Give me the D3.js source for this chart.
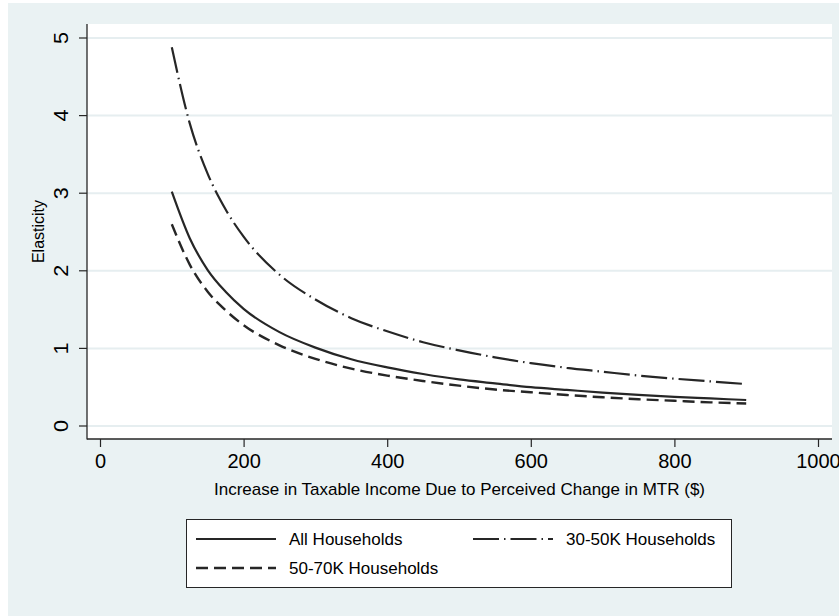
<!DOCTYPE html>
<html>
<head>
<meta charset="utf-8">
<script src="https://cdn.jsdelivr.net/npm/d3@7"></script>
<style>
  body { margin: 0; background: #fff; }
  svg { display: block; font-family: "Liberation Sans", Arial, sans-serif; }
</style>
</head>
<body>
<svg id="chart" width="839" height="616"></svg>
<script>
'use strict';

// income increase ($) at which the curves were read
const income = [100, 125, 150, 175, 200, 250, 300, 350, 400, 450, 500, 550, 600, 650, 700, 750, 800, 850, 900];

// elasticity
const allHouseholds = [3.02, 2.42, 2.01, 1.73, 1.51, 1.21, 1.01, 0.86, 0.755, 0.67, 0.60, 0.55, 0.50, 0.465, 0.43, 0.40, 0.375, 0.355, 0.335];
const hh30to50 = [4.88, 3.9, 3.25, 2.79, 2.44, 1.95, 1.63, 1.39, 1.22, 1.08, 0.975, 0.885, 0.81, 0.75, 0.70, 0.65, 0.61, 0.575, 0.54];
const hh50to70 = [2.60, 2.08, 1.73, 1.49, 1.30, 1.04, 0.865, 0.74, 0.65, 0.58, 0.52, 0.47, 0.435, 0.40, 0.37, 0.345, 0.325, 0.305, 0.29];

const xTicks = [0, 200, 400, 600, 800, 1000];
const yTicks = [0, 1, 2, 3, 4, 5];

const seriesNames = ['All Households', '30-50K Households', '50-70K Households'];

const bgColor = '#eaf2f3';
const inkColor = '#262626';

const plot = { left: 87, right: 832, top: 24, bottom: 439 };

const svg = d3.select('#chart');

// outer (graph region) background
svg.append('rect')
  .attr('x', 8).attr('y', 3)
  .attr('width', 831).attr('height', 613)
  .attr('fill', bgColor);

// plot region
svg.append('rect')
  .attr('x', plot.left).attr('y', plot.top)
  .attr('width', plot.right - plot.left)
  .attr('height', plot.bottom - plot.top)
  .attr('fill', '#fff');

const xScale = d3.scaleLinear().domain([0, 1000]).range([100, 818]);
const yScale = d3.scaleLinear().domain([0, 5]).range([426, 38]);

// gridlines
svg.append('g')
  .selectAll('line')
  .data(yTicks)
  .join('line')
  .attr('x1', plot.left).attr('x2', plot.right)
  .attr('y1', d => yScale(d)).attr('y2', d => yScale(d))
  .attr('stroke', '#e6eef0')
  .attr('stroke-width', 2);

// y axis
const yAxis = svg.append('g')
  .attr('transform', 'translate(' + plot.left + ',0)')
  .call(d3.axisLeft(yScale).tickValues(yTicks).tickSize(8).tickPadding(0).tickFormat(d3.format('d')));
yAxis.select('.domain').remove();
yAxis.selectAll('line').attr('stroke', inkColor).attr('stroke-width', 1.2);
yAxis.selectAll('text')
  .attr('fill', '#000')
  .attr('font-size', 20)
  .attr('text-anchor', 'middle')
  .attr('x', null).attr('dy', null)
  .attr('transform', d => 'translate(-19,' + yScale(d) + ') rotate(-90) scale(1.08,1)')
  .attr('y', 0);
yAxis.selectAll('.tick').attr('transform', null);
yAxis.selectAll('.tick line')
  .attr('y1', d => yScale(d)).attr('y2', d => yScale(d));

// x axis
const xAxis = svg.append('g')
  .attr('transform', 'translate(0,' + plot.bottom + ')')
  .call(d3.axisBottom(xScale).tickValues(xTicks).tickSize(8).tickPadding(6).tickFormat(d3.format('d')));
xAxis.select('.domain').remove();
xAxis.selectAll('line').attr('stroke', inkColor).attr('stroke-width', 1.2);
xAxis.selectAll('text')
  .attr('fill', '#000')
  .attr('font-size', 20)
  .attr('dy', null)
  .attr('y', 29);

// axis lines
svg.append('line')
  .attr('x1', plot.left).attr('x2', plot.left)
  .attr('y1', plot.top).attr('y2', plot.bottom + 0.5)
  .attr('stroke', inkColor).attr('stroke-width', 1.3);
svg.append('line')
  .attr('x1', plot.left).attr('x2', plot.right)
  .attr('y1', plot.bottom).attr('y2', plot.bottom)
  .attr('stroke', inkColor).attr('stroke-width', 1.3);

// axis titles
svg.append('text')
  .attr('transform', 'translate(44,' + (plot.top + plot.bottom) / 2 + ') rotate(-90)')
  .attr('text-anchor', 'middle')
  .attr('font-size', 16)
  .text('Elasticity');

svg.append('text')
  .attr('x', (plot.left + plot.right) / 2)
  .attr('y', 495)
  .attr('text-anchor', 'middle')
  .attr('font-size', 17)
  .text('Increase in Taxable Income Due to Perceived Change in MTR ($)');

// curves
const series = [
  { name: seriesNames[0], values: allHouseholds, dash: null, width: 2.2 },
  { name: seriesNames[1], values: hh30to50, dash: '26,5,1.5,5', width: 2.2 },
  { name: seriesNames[2], values: hh50to70, dash: '12,6', width: 2.4 },
];

const line = d3.line()
  .x((d, i) => xScale(income[i]))
  .y(d => yScale(d))
  .curve(d3.curveMonotoneX);

svg.append('g')
  .selectAll('path')
  .data(series)
  .join('path')
  .attr('d', d => line(d.values))
  .attr('fill', 'none')
  .attr('stroke', inkColor)
  .attr('stroke-width', d => d.width)
  .attr('stroke-dasharray', d => d.dash);

// legend
const legend = svg.append('g');
legend.append('rect')
  .attr('x', 186.5).attr('y', 519.5)
  .attr('width', 545).attr('height', 68)
  .attr('fill', '#fff')
  .attr('stroke', inkColor)
  .attr('stroke-width', 1);

const legendPos = [
  { x: 196, y: 539 },
  { x: 473, y: 539 },
  { x: 196, y: 568 },
];

series.forEach(function(s, i) {
  const p = legendPos[i];
  legend.append('line')
    .attr('x1', p.x).attr('x2', p.x + 80)
    .attr('y1', p.y).attr('y2', p.y)
    .attr('stroke', inkColor)
    .attr('stroke-width', s.width)
    .attr('stroke-dasharray', s.dash);
  legend.append('text')
    .attr('x', p.x + 93)
    .attr('y', p.y + 6)
    .attr('font-size', 17)
    .text(s.name);
});
</script>
</body>
</html>
